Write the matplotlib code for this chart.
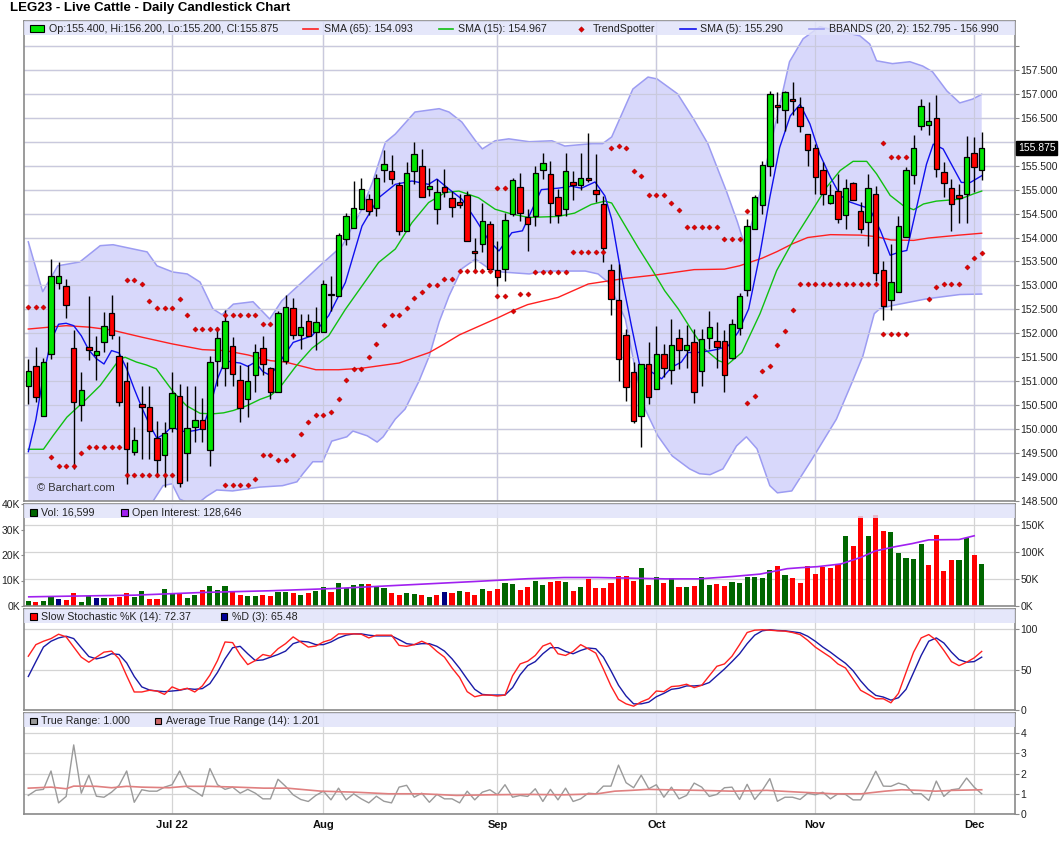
import matplotlib
matplotlib.use("Agg")
import matplotlib.pyplot as plt
from matplotlib.patches import Rectangle, Polygon
from matplotlib.lines import Line2D
from matplotlib.transforms import blended_transform_factory
from matplotlib.ticker import FuncFormatter

plt.rcParams['font.family'] = ['Liberation Sans', 'DejaVu Sans']

# ---------------- data ----------------
opens = [150.90, 151.31, 150.27, 151.56, 153.06, 152.99, 151.69, 150.51, 151.71, 151.55,
         151.81, 152.42, 151.52, 151.01, 149.52, 150.53, 150.46, 149.81, 149.45, 150.02,
         150.69, 149.50, 150.04, 150.19, 149.57, 151.42, 151.27, 151.73, 151.03, 150.63,
         151.13, 151.69, 151.27, 150.77, 151.42, 152.52, 151.97, 152.26, 152.02, 152.02,
         152.83, 152.77, 153.97, 154.19, 154.60, 154.81, 154.61, 155.40, 155.38, 155.10,
         154.13, 155.38, 155.49, 155.01, 154.59, 155.06, 154.83, 154.74, 154.89, 153.72,
         153.86, 154.28, 153.32, 153.35, 154.49, 155.06, 154.42, 154.44, 155.40, 155.33,
         154.85, 154.60, 155.15, 155.10, 155.24, 155.00, 154.69, 153.33, 152.70, 151.97,
         151.20, 150.27, 151.35, 150.84, 151.56, 151.24, 151.91, 151.65, 151.81, 151.21,
         151.90, 151.85, 151.85, 151.48, 152.11, 152.90, 154.17, 154.67, 155.50, 156.76,
         156.67, 156.90, 156.72, 156.16, 155.86, 155.41, 154.72, 154.98, 154.46, 155.13,
         154.56, 154.32, 154.90, 153.33, 152.69, 152.86, 154.01, 155.31, 156.32, 156.35,
         156.49, 155.36, 155.03, 154.88, 154.91, 155.76, 155.40]
highs = [151.47, 151.71, 151.48, 153.56, 153.48, 153.13, 152.06, 151.19, 152.77, 151.95,
         152.45, 152.80, 151.95, 151.40, 150.04, 150.91, 150.91, 150.16, 150.15, 151.19,
         150.94, 150.91, 150.91, 150.65, 151.53, 152.13, 152.49, 151.92, 151.33, 151.33,
         151.78, 151.95, 151.30, 152.47, 152.80, 152.73, 152.40, 152.40, 152.54, 153.12,
         153.19, 154.09, 154.51, 155.19, 155.24, 154.90, 155.33, 155.82, 155.72, 155.15,
         155.58, 155.99, 155.85, 155.46, 155.23, 155.44, 154.97, 154.90, 154.97, 154.00,
         154.73, 154.35, 153.93, 154.51, 155.25, 155.34, 154.59, 155.49, 155.77, 155.60,
         155.01, 155.77, 155.39, 155.77, 156.19, 155.74, 154.87, 153.44, 153.44, 152.10,
         151.41, 151.35, 151.81, 152.15, 151.78, 152.30, 152.10, 152.17, 152.09, 152.10,
         152.46, 152.23, 152.06, 152.30, 152.84, 154.38, 154.88, 155.59, 157.06, 157.03,
         157.06, 157.24, 156.94, 156.16, 155.95, 155.57, 155.12, 155.33, 155.22, 155.15,
         154.74, 155.33, 155.08, 153.52, 153.87, 154.44, 155.47, 156.14, 156.89, 156.82,
         156.97, 155.57, 155.22, 155.12, 156.11, 156.09, 156.20]
lows = [150.53, 150.56, 150.27, 151.47, 152.92, 152.33, 149.17, 150.16, 151.45, 151.03,
        151.60, 151.88, 150.49, 148.86, 149.45, 149.38, 149.38, 149.00, 148.80, 149.94,
        148.80, 148.92, 149.73, 149.73, 149.24, 150.90, 150.91, 150.91, 150.15, 150.26,
        150.77, 151.12, 150.63, 150.77, 151.36, 151.88, 151.67, 151.95, 151.66, 152.02,
        152.47, 152.77, 153.84, 154.19, 154.60, 154.47, 154.45, 155.15, 155.11, 154.06,
        154.13, 155.11, 154.85, 154.87, 154.28, 154.85, 154.42, 154.61, 153.92, 153.31,
        153.69, 153.27, 152.98, 153.10, 154.45, 154.35, 153.72, 154.24, 155.22, 154.31,
        154.31, 154.45, 154.78, 155.00, 155.15, 154.74, 153.49, 152.38, 151.01, 150.58,
        150.13, 149.63, 150.53, 150.84, 151.08, 150.94, 151.26, 151.27, 150.54, 150.91,
        151.67, 151.28, 150.77, 151.47, 151.97, 152.78, 154.17, 154.49, 155.29, 156.40,
        156.23, 156.56, 156.21, 155.50, 154.91, 154.67, 154.70, 154.31, 154.18, 154.79,
        154.09, 153.83, 153.10, 152.28, 152.48, 152.86, 154.01, 155.12, 156.25, 156.15,
        155.27, 154.84, 154.13, 154.30, 154.31, 154.94, 155.20]
closes = [151.22, 150.67, 151.41, 153.20, 153.20, 152.60, 150.56, 150.81, 151.65, 151.64,
          152.15, 151.97, 150.56, 149.59, 149.77, 150.46, 149.96, 149.35, 149.92, 150.75,
          148.88, 150.02, 150.19, 150.00, 151.41, 151.90, 152.26, 151.15, 150.44, 151.01,
          151.60, 151.36, 150.77, 152.42, 152.56, 151.97, 152.14, 151.95, 152.23, 153.04,
          152.80, 154.06, 154.44, 154.61, 155.02, 154.56, 155.25, 155.53, 155.22, 154.13,
          155.35, 155.75, 154.85, 155.08, 154.95, 154.96, 154.63, 154.68, 153.92, 153.67,
          154.35, 153.34, 153.18, 154.36, 155.20, 154.51, 154.29, 155.35, 155.56, 154.73,
          154.48, 155.38, 155.10, 155.24, 155.21, 154.90, 153.79, 152.71, 151.47, 150.88,
          150.18, 151.35, 150.67, 151.56, 151.27, 151.76, 151.65, 151.76, 150.77, 151.89,
          152.14, 151.71, 151.13, 152.20, 152.78, 154.24, 154.85, 155.52, 156.99, 156.73,
          157.03, 156.85, 156.33, 155.83, 155.26, 154.90, 154.88, 154.38, 155.03, 154.79,
          154.17, 155.03, 153.26, 152.57, 153.07, 154.25, 155.40, 155.86, 156.74, 156.44,
          155.44, 155.13, 154.70, 154.83, 155.69, 155.47, 155.875]

# moving averages / bands as (day, value) pairs
sma65 = [(1, 152.09), (6, 152.16), (9, 152.13), (12, 152.07), (16, 151.92), (20, 151.78),
         (24, 151.66), (27, 151.64), (30, 151.55), (33, 151.43), (35, 151.40), (39, 151.24),
         (42, 151.24), (45, 151.27), (50, 151.38), (54, 151.60), (56, 151.78), (58, 151.97),
         (63, 152.32), (65, 152.47), (67, 152.60), (71, 152.75), (75, 153.03), (80, 153.15),
         (84, 153.22), (89, 153.33), (93, 153.34), (95, 153.41), (98, 153.57), (100, 153.71),
         (102, 153.87), (104, 154.00), (107, 154.06), (111, 154.05), (113, 154.02), (115, 153.95),
         (118, 153.94), (120, 153.99), (122, 154.02), (124, 154.05), (127, 154.09)]
sma15 = [(1, 149.58), (3, 149.58), (4.3, 149.87), (6.1, 150.25), (8.7, 150.63), (10.5, 150.91),
         (11.8, 151.19), (13.1, 151.47), (13.8, 151.50), (15.3, 151.40), (16.6, 151.34), (17.9, 151.26),
         (20.2, 150.77), (21.9, 150.49), (23.7, 150.33), (25.4, 150.32), (26.8, 150.34), (28.1, 150.39),
         (29.9, 150.49), (31.6, 150.62), (33, 150.70), (34.1, 150.84), (36.3, 151.30), (38.5, 151.69),
         (40.7, 151.95), (42.9, 152.50), (45.1, 152.99), (47.3, 153.48), (49.5, 153.76), (51.7, 154.31),
         (53.9, 154.73), (56.1, 154.94), (57.9, 154.97), (60.5, 154.83), (62.7, 154.59), (64.9, 154.49),
         (67.1, 154.42), (71, 154.44), (73.2, 154.51), (75.4, 154.69), (77.2, 154.76), (78.1, 154.72),
         (79.9, 154.24), (81.6, 153.79), (83.4, 153.34), (85.1, 152.89), (86.9, 152.51), (88.7, 152.06),
         (90.4, 151.67), (92.2, 151.43), (93.5, 151.36), (95.3, 151.60), (97.7, 152.41), (99.9, 153.31),
         (102.1, 153.94), (104.3, 154.49), (106.5, 155.05), (108.3, 155.40), (110, 155.59), (111.8, 155.59),
         (113.1, 155.33), (114.9, 154.88), (116.6, 154.67), (118, 154.58), (119.3, 154.70), (121, 154.76),
         (124.1, 154.80), (125.9, 154.91), (127, 154.97)]
sma5 = [(1, 149.53), (2, 150.20), (3, 151.12), (4, 151.85), (5, 152.19), (6, 152.21), (7, 152.16),
        (8, 151.95), (9, 151.65), (10, 151.47), (11, 151.36), (12, 151.64), (13, 151.59), (14, 151.26),
        (15, 150.84), (16, 150.45), (17, 150.10), (18, 149.81), (19, 149.90), (20, 150.06), (21, 149.96),
        (22, 149.95), (23, 149.97), (24, 150.01), (25, 150.45), (26, 151.05), (27, 151.43), (28, 151.40),
        (29, 151.38), (30, 151.31), (31, 151.40), (32, 151.20), (33, 151.12), (36, 151.81), (38.5, 151.95),
        (40.7, 152.37), (42.9, 153.06), (45.1, 154.24), (47.3, 154.83), (49.5, 155.11), (51.7, 155.18),
        (53.9, 155.11), (55, 155.22), (56.6, 155.01), (58.3, 154.80), (60.1, 154.38), (61.9, 153.93),
        (63.2, 153.72), (64.9, 154.10), (66.3, 154.14), (67.6, 154.59), (68.8, 155.00), (71, 155.03),
        (72.8, 155.07), (74.1, 155.03), (75.9, 155.16), (77.2, 154.87), (78.1, 154.38), (79.4, 153.20),
        (80.7, 152.16), (81.8, 151.33), (83.4, 151.19), (84.7, 151.05), (86, 151.29), (87.3, 151.40),
        (88.2, 151.60), (89.5, 151.60), (90.9, 151.63), (92.2, 151.67), (93.5, 151.74), (94.8, 152.02),
        (96.2, 152.51), (97.7, 153.66), (99, 154.84), (100.3, 155.88), (101.7, 156.54), (103, 156.78),
        (104.3, 156.37), (105.6, 155.74), (107, 155.26), (108.3, 154.88), (109.6, 154.74), (110.9, 154.67),
        (112.2, 154.60), (113.6, 154.15), (114.9, 153.63), (116.2, 153.70), (117.1, 153.73), (118.4, 154.63),
        (119.7, 155.53), (120.6, 155.95), (121.9, 155.85), (123.2, 155.47), (124.3, 155.15), (125.5, 155.15),
        (127, 155.29)]
bb_upper = [(1, 153.91), (2.9, 152.87), (4.9, 153.41), (7.8, 153.49), (10.5, 153.83), (12.2, 153.85),
            (16.7, 153.70), (18, 153.41), (20.1, 153.28), (22, 153.24), (23.7, 153.07), (25.4, 152.51),
            (26.6, 152.39), (28.1, 152.61), (30.7, 152.66), (32.9, 152.30), (34.5, 152.68), (37.2, 153.07),
            (39.8, 153.45), (42.5, 153.83), (45.1, 154.60), (46.5, 155.16), (48.2, 155.99), (49.5, 156.16),
            (52.1, 156.62), (55.3, 156.69), (56.6, 156.62), (58.3, 156.41), (60.1, 156.02), (61, 155.85),
            (62.7, 156.02), (64.5, 156.06), (67.2, 156.00), (70.2, 156.02), (71.9, 155.91), (75.5, 155.96),
            (76.9, 155.96), (78.1, 156.10), (80.9, 157.10), (82.9, 157.35), (84.1, 157.31), (86.8, 157.00),
            (88.9, 156.48), (90.8, 155.96), (93.3, 154.95), (94.7, 154.33), (95.7, 153.83), (97.3, 154.66),
            (98.6, 155.58), (99.9, 156.48), (101.6, 157.67), (103.4, 158.15), (105.6, 158.40), (108.6, 158.29),
            (110.9, 158.21), (112.2, 158.04), (113.1, 157.69), (115.2, 157.63), (117.5, 157.67), (119.2, 157.58),
            (120.5, 157.46), (122.4, 157.06), (124.1, 156.81), (125.8, 156.89), (127, 156.99)]
bb_lower = [(1, 148.30), (5, 147.95), (10, 147.85), (14, 148.05), (17.5, 148.50), (18.8, 148.82),
            (20, 148.86), (21, 148.54), (23, 148.40), (24.6, 148.60), (25.9, 148.73), (28, 148.71),
            (31.6, 148.79), (34.6, 148.82), (36.5, 148.90), (37.3, 149.07), (38.6, 149.32), (39.9, 149.32),
            (41.1, 149.75), (43.1, 149.84), (43.9, 149.96), (45.8, 149.86), (47.1, 149.73), (47.9, 149.84),
            (49.5, 150.21), (50.8, 150.42), (52.6, 150.99), (54, 151.53), (55.3, 152.24), (56.6, 152.78),
            (58.3, 153.35), (60.1, 153.55), (61.9, 153.35), (63.6, 153.28), (67.2, 153.24), (69.3, 153.30),
            (74.6, 153.30), (76.3, 153.24), (77.6, 153.07), (79.9, 152.30), (81.2, 151.26), (82.5, 150.42),
            (84.2, 149.86), (86.1, 149.44), (88.4, 149.17), (89.7, 149.07), (91.1, 149.05), (92.8, 149.17),
            (94.6, 149.65), (95.9, 149.84), (97.3, 149.59), (99, 148.82), (100, 148.67), (101.9, 148.71),
            (104.6, 149.38), (107.8, 150.21), (109.9, 150.99), (111.3, 151.53), (112.8, 152.41), (113.5, 152.51),
            (115.2, 152.58), (119.7, 152.72), (124.1, 152.81), (127, 152.82)]

# TrendSpotter dots
trend_x = [1, 2, 3, 4, 5, 6, 7, 8, 9, 10, 11, 12, 13,
           14, 15, 16, 17, 18, 19, 20, 14, 15, 16, 17, 18, 19, 20,
           21, 22, 23, 24, 25, 26, 27, 28, 29, 30, 31, 27, 28, 29, 30, 31,
           32, 33, 32, 33, 34, 35, 36, 37, 38, 39, 40, 41, 42, 43, 44, 45, 46, 47, 48,
           49, 50, 51, 52, 53, 54, 55, 56, 57, 58, 59, 60, 61, 62, 63, 64, 63, 64,
           65, 66, 67, 68, 69, 70, 71, 72, 73, 74, 75, 76, 77,
           78, 79, 80, 81, 82, 83, 84, 85, 86, 87, 88, 89, 90, 91, 92, 93, 94, 95,
           96, 96, 97, 98, 99, 100, 101, 102, 103, 104, 105, 106, 107, 108, 109, 110, 111, 112, 113,
           114, 115, 116, 117, 114, 115, 116, 117, 120, 121, 122, 123, 124, 125, 126, 127]
trend_y = [152.56, 152.56, 152.56, 149.42, 149.23, 149.23, 149.23, 149.50, 149.63, 149.63, 149.63, 149.63, 149.63,
           153.11, 153.11, 153.03, 152.67, 152.52, 152.52, 152.52,
           149.05, 149.05, 149.05, 149.05, 149.05, 149.05, 149.05,
           152.71, 152.38, 152.10, 152.10, 152.10, 152.10, 152.38, 152.38, 152.38, 152.38, 152.38,
           148.84, 148.84, 148.84, 148.84, 148.96,
           152.20, 152.20, 149.46, 149.46, 149.36, 149.36, 149.47, 149.90, 150.15, 150.30, 150.30, 150.35,
           150.63, 151.02, 151.26, 151.26, 151.50, 151.77, 152.17,
           152.38, 152.38, 152.52, 152.73, 152.86, 153.01, 153.01, 153.13, 153.13, 153.31, 153.31, 153.31,
           153.31, 153.31, 152.77, 152.77, 155.04, 155.04,
           152.47, 152.83, 152.83, 153.29, 153.29, 153.29, 153.29, 153.29, 153.70, 153.70, 153.70, 153.70, 153.70,
           155.87, 155.91, 155.87, 155.38, 155.28, 154.89, 154.89, 154.89, 154.72, 154.58, 154.22, 154.22,
           154.22, 154.22, 154.22, 153.97, 153.97, 153.97,
           154.55, 150.55, 150.69, 151.21, 151.32, 151.75, 152.05, 152.49, 153.03, 153.03, 153.03, 153.03,
           153.03, 153.03, 153.03, 153.03, 153.03, 153.03, 153.03,
           151.99, 151.99, 151.99, 151.99, 155.97, 155.69, 155.69, 155.69,
           152.72, 152.96, 153.03, 153.03, 153.03, 153.38, 153.57, 153.68]

# volume (thousands) and its colour code: g = up, r = down, n = unchanged
volume_k = [2.0, 1.7, 2.0, 3.6, 2.8, 2.5, 5.2, 1.7, 3.9, 3.2, 3.2, 3.2, 3.6, 5.2, 3.6, 6.0, 2.8, 2.8, 6.8, 5.2,
            4.7, 3.2, 4.4, 6.4, 8.0, 6.4, 8.0, 5.6, 4.4, 4.0, 4.0, 4.4, 4.0, 5.6, 5.6, 5.2, 4.4, 5.2, 6.0, 7.6,
            5.6, 9.2, 7.2, 8.4, 8.8, 8.8, 7.6, 7.2, 5.2, 4.4, 5.2, 4.8, 4.4, 3.6, 4.4, 5.6, 5.2, 6.0, 5.6, 4.4,
            6.8, 6.0, 6.8, 9.2, 8.8, 6.4, 7.6, 10.0, 8.4, 9.6, 10.0, 9.6, 6.0, 7.6, 10.4, 7.2, 7.2, 9.2, 11.6, 11.6,
            10.0, 14.8, 8.4, 11.2, 9.2, 10.8, 7.6, 7.6, 8.0, 11.2, 8.4, 8.8, 8.0, 9.6, 9.2, 11.2, 11.2, 10.8, 14.0, 15.6,
            12.0, 10.8, 9.2, 15.6, 12.4, 15.3, 14.8, 16.4, 27.6, 23.6, 35.2, 27.6, 35.6, 29.6, 29.2, 20.8, 18.8, 18.4,
            24.4, 16.0, 28.0, 13.6, 18.0, 18.0, 26.8, 20.0, 16.6]
volume_dir = ("grggnrrggngrrrggrrggrggrgggrrggrrggrgrggrggggrggrrggrgrnrgrrgrrggrr"
              "ggrrgrgrrrrrrrgrgrgrgrggrrggggggrgrrrrrrrgrrgrrgggggrrrrggrg")
oi_k = [(1.06, 16.9), (6.2, 18.1), (15.1, 20.0), (24.1, 25.0), (33, 28.1), (41.9, 32.5), (50.9, 38.8),
        (59.8, 45.0), (67, 50.3), (71.8, 52.5), (76.2, 52.5), (80.7, 51.3), (85.2, 50.0), (89.6, 50.0),
        (94.1, 54.4), (97.7, 58.8), (101.3, 68.8), (103, 70.6), (105.3, 72.5), (108.4, 77.5), (111.1, 90.0),
        (112.9, 101.3), (115.6, 109.4), (117.8, 115.0), (120, 121.9), (124, 122.5), (126, 129.4)]

stoch_k = [66.5, 80.8, 85, 88.3, 93.7, 90.4, 77.8, 65.3, 59, 65.3, 71.5, 72.8, 63.2, 42.3, 22.2, 22.2,
           24.3, 23.4, 19.2, 28.5, 24.7, 26.8, 22.2, 29.7, 43.1, 61.1, 84.1, 83.3, 68.2, 56.1, 61.1, 68.6,
           66.5, 75.7, 82, 90.4, 84.1, 77.8, 79.1, 84.1, 87, 94.1, 94.1, 94.1, 93.7, 89.1, 92.5, 92.5,
           92.5, 79.9, 78.7, 80.8, 85, 80.8, 72.4, 65.3, 51.9, 40.2, 22.6, 16.3, 18.4, 18.4, 17.2, 18.4,
           42.3, 56.9, 60.3, 67.4, 79.1, 82.8, 69.5, 67.4, 72.4, 80.8, 75.7, 70.3, 50.6, 29.7, 13, 7.5,
           4.6, 10, 13.8, 23.4, 22.6, 28.9, 29.7, 31.8, 27.6, 30.5, 42.3, 54, 56.9, 66.5, 80.8, 95.8,
           98.7, 99.2, 98.7, 97.9, 97.5, 95.8, 93.3, 86.2, 77.8, 71.5, 65.3, 56.9, 51.9, 38.1, 24.3, 19.2,
           13.8, 13.8, 8.8, 20.5, 46.4, 71.5, 89.1, 93.3, 86.2, 73.6, 59.8, 54.8, 59, 64.4, 72.4]
stoch_d = [41.4, 59.8, 77.8, 85, 89.1, 91.2, 88.3, 77, 66.1, 63.2, 65.3, 69.5, 68.6, 58.2, 41.4, 28.5,
           24.7, 23.4, 22.6, 23.4, 24.3, 26.4, 25.5, 26.4, 32.6, 46.4, 63.2, 77, 78.7, 69.5, 61.1, 61.9,
           65.3, 68.6, 72.8, 82, 85, 84.1, 80.8, 80.8, 84.1, 89.1, 92.5, 94.1, 94.1, 92.5, 91.6, 91.6,
           91.6, 87, 82, 80.8, 82, 82, 78.7, 72.8, 63.2, 51.5, 38.1, 25.5, 19.2, 18.4, 18.4, 18.4,
           27.6, 43.5, 54.8, 59.8, 69.5, 77, 77, 72.4, 69.5, 73.6, 76.6, 75.7, 65.3, 48.5, 30.5, 17.2,
           7.5, 7.5, 9.6, 16.3, 20.5, 25.5, 26.8, 29.7, 29.7, 30.5, 33.9, 42.3, 50.6, 59.8, 69.5, 82,
           92.5, 97.9, 99.2, 98.3, 97.9, 96.7, 95.4, 91.2, 85, 77.8, 71.5, 64.4, 57.7, 48.5, 36, 25.5,
           18, 15.9, 12.1, 15.1, 25.5, 46.4, 67.4, 85, 89.1, 82.8, 71.5, 62.3, 59, 59.8, 65.3]

true_range = [0.92, 1.17, 1.22, 2.13, 0.55, 0.87, 3.42, 1.03, 1.92, 0.88, 0.83, 1.08, 1.42, 2.13, 0.58, 1.2,
              1.13, 1.13, 1.33, 1.45, 2.13, 1.33, 1.13, 0.88, 2.25, 1.45, 1.22, 1.33, 1.03, 1.22, 1.03, 0.75,
              0.75, 1.72, 1.37, 0.95, 0.72, 0.62, 0.92, 1.13, 0.7, 1.28, 0.7, 1.0, 0.75, 0.55, 0.88, 0.63,
              0.55, 1.33, 1.42, 0.83, 1.03, 0.58, 0.97, 0.75, 0.75, 0.55, 1.13, 0.7, 1.08, 1.2, 0.95, 1.45,
              0.83, 0.92, 0.87, 1.25, 0.62, 1.22, 0.7, 1.28, 0.62, 0.75, 1.03, 1.0, 1.38, 1.38, 2.42, 1.55,
              1.3, 1.92, 1.25, 1.45, 0.83, 1.33, 0.75, 0.92, 1.53, 1.33, 0.87, 0.97, 1.3, 1.33, 0.72, 1.47,
              0.72, 1.17, 1.75, 0.63, 0.83, 0.83, 0.72, 1.03, 0.95, 1.08, 0.75, 1.0, 0.97, 0.7, 0.7, 1.37,
              2.12, 1.38, 1.37, 1.53, 1.42, 1.0, 1.0, 0.67, 1.63, 0.87, 1.2, 1.25, 1.78, 1.33, 1.0]
atr = [(1, 1.28), (4, 1.33), (6, 1.25), (7, 1.38), (10, 1.37), (12, 1.30), (14, 1.37), (16, 1.33),
       (19.6, 1.30), (21.8, 1.37), (25, 1.37), (28.5, 1.33), (32.1, 1.28), (35.2, 1.28), (39.7, 1.13),
       (44.2, 1.08), (48.6, 1.00), (53.1, 1.00), (57.6, 0.92), (62, 0.95), (67, 0.97), (71.8, 0.95),
       (76.2, 1.00), (78.5, 1.13), (80.7, 1.17), (82.9, 1.22), (85.2, 1.20), (89.6, 1.17), (94.1, 1.13),
       (98.6, 1.17), (103, 1.08), (107.5, 1.00), (111.1, 1.00), (114.2, 1.13), (116.4, 1.20), (118.7, 1.17),
       (120.9, 1.13), (123.2, 1.17), (127, 1.20)]

month_pos = [20, 40, 63, 84, 105, 126]
month_labels = ['Jul 22', 'Aug', 'Sep', 'Oct', 'Nov', 'Dec']

days = list(range(1, len(closes) + 1))

# ---------------- figure ----------------
W, H = 1060, 851
fig = plt.figure(figsize=(W / 100, H / 100), dpi=100)
fig.patch.set_facecolor('white')


def box(top, bottom, left=24, right=1015):
    return [left / W, 1 - bottom / H, (right - left) / W, (bottom - top) / H]


ax = fig.add_axes(box(21, 501))
axv = fig.add_axes(box(504, 606))
axs = fig.add_axes(box(609, 710))
axt = fig.add_axes(box(713, 814))

GRID = '#d4d4d4'
BAND = '#e0e2fa'
TXT = '#222222'
LBL = 7.5


def style(a):
    a.set_xlim(0.43, 131.4)
    for s in a.spines.values():
        s.set_color('#8a8a8a')
        s.set_linewidth(1.2)
    a.set_xticks(month_pos)
    a.tick_params(axis='x', length=0, labelbottom=False)
    a.yaxis.tick_right()
    a.tick_params(axis='y', direction='out', length=3, color='#8a8a8a',
                  labelsize=LBL, labelcolor=TXT, pad=1)
    a.grid(True, color=GRID, lw=0.9, zorder=2)
    a.set_axisbelow(True)


def legend_band(a, px_height, px_total):
    frac = px_height / px_total
    a.add_patch(Rectangle((0, 1 - frac), 1, frac, transform=a.transAxes,
                          facecolor=BAND, edgecolor='none', alpha=0.82, zorder=20))


def fx(x):
    return x / W


def fy(y):
    return 1 - y / H


# ---------------- main price panel ----------------
style(ax)
ax.set_ylim(148.5, 158.52)
ax.set_yticks([148.5 + 0.5 * i for i in range(20)])
last_close = closes[-1]
ax.yaxis.set_major_formatter(FuncFormatter(
    lambda v, p: '' if (v > 157.9 or abs(v - last_close) < 0.2) else '%.3f' % v))

ux, uy = zip(*bb_upper)
lx, ly = zip(*bb_lower)
ax.add_patch(Polygon(list(zip(list(ux) + list(lx)[::-1], list(uy) + list(ly)[::-1])),
                     closed=True, facecolor='#d8d8fb', edgecolor='none', zorder=1))
ax.plot(ux, uy, color='#9c9cf2', lw=1.1, zorder=1.5)
ax.plot(lx, ly, color='#9c9cf2', lw=1.1, zorder=1.5)
# grid lines above the band shading
for v in ax.get_yticks():
    ax.axhline(v, color='#c9c9dd', lw=0.9, zorder=1.6)
for m in month_pos:
    ax.axvline(m, color='#c9c9dd', lw=0.9, zorder=1.6)

for series, col in [(sma65, '#ff2020'), (sma15, '#10c010'), (sma5, '#1010ee')]:
    xs, ys = zip(*series)
    ax.plot(xs, ys, color=col, lw=1.0, zorder=3)

for d, o, h, l, c in zip(days, opens, highs, lows, closes):
    ax.plot([d, d], [l, h], color='black', lw=1.0, zorder=4, solid_capstyle='butt')
    up = c >= o
    bottom = min(o, c)
    height = max(abs(c - o), 0.03)
    ax.add_patch(Rectangle((d - 0.36, bottom), 0.72, height,
                           facecolor='#00e600' if up else '#ff0000',
                           edgecolor='black', lw=0.9, zorder=5))

ax.scatter(trend_x, trend_y, marker='D', s=7, color='#e00000',
           edgecolors='#a00000', linewidths=0.3, zorder=6)

legend_band(ax, 14, 480)
ax.text(fx(37), fy(488), '\u00a9 Barchart.com', transform=fig.transFigure,
        fontsize=8, color='#333333', va='center', ha='left', zorder=21)

ax.text(1.003, last_close, '%.3f' % last_close,
        transform=blended_transform_factory(ax.transAxes, ax.transData),
        color='white', fontsize=LBL, va='center', ha='left', zorder=30, clip_on=False,
        bbox=dict(boxstyle='square,pad=0.18', facecolor='black', edgecolor='black'))

# title and legends
fig.text(fx(10), fy(8), 'LEG23 - Live Cattle - Daily Candlestick Chart',
         fontsize=9.5, fontweight='bold', color='black', va='center', ha='left')


def swatch_rect(x0, x1, yc, h, fc, ec='black'):
    fig.patches.append(Rectangle((fx(x0), fy(yc + h / 2)), (x1 - x0) / W, h / H,
                                 transform=fig.transFigure, facecolor=fc,
                                 edgecolor=ec, lw=0.8, zorder=40))


def swatch_line(x0, x1, yc, col):
    fig.lines.append(Line2D([fx(x0), fx(x1)], [fy(yc), fy(yc)], transform=fig.transFigure,
                            color=col, lw=1.2, zorder=40))


def legend_text(x, yc, s):
    fig.text(fx(x), fy(yc), s, fontsize=7.7, color=TXT, va='center', ha='left', zorder=41)


LY = 28.5
swatch_rect(30, 44, LY, 6.5, '#00e600')
legend_text(49, LY, 'Op:%.3f, Hi:%.3f, Lo:%.3f, Cl:%.3f' % (opens[-1], highs[-1], lows[-1], closes[-1]))
swatch_line(303, 318, LY, '#ff2020')
legend_text(323.5, LY, 'SMA (65): 154.093')
swatch_line(438.5, 453, LY, '#10c010')
legend_text(458, LY, 'SMA (15): 154.967')
fig.lines.append(Line2D([fx(581)], [fy(LY)], transform=fig.transFigure, marker='D',
                        markersize=2.8, color='#e00000', markeredgecolor='#a00000',
                        markeredgewidth=0.3, linestyle='none', zorder=40))
legend_text(592.5, LY, 'TrendSpotter')
swatch_line(680, 696, LY, '#1010ee')
legend_text(700, LY, 'SMA (5): 155.290')
swatch_line(809, 824, LY, '#9c9cf2')
legend_text(829, LY, 'BBANDS (20, 2): 152.795 - 156.990')

# ---------------- volume + open interest ----------------
style(axv)
axv.yaxis.tick_left()
axv.tick_params(axis='y', direction='out', length=2.5, pad=0.5)
axv.set_ylim(0, 40000)
axv.set_yticks([0, 10000, 20000, 30000, 40000])
axv.yaxis.set_major_formatter(FuncFormatter(lambda v, p: '%dK' % (v / 1000)))
axv.grid(False)
for m in month_pos:
    axv.axvline(m, color=GRID, lw=0.9, zorder=0.5)
vol_colors = {'g': '#006600', 'r': '#ff0000', 'n': '#000080'}
axv.bar(days, [v * 1000 for v in volume_k], width=0.68,
        color=[vol_colors[c] for c in volume_dir], zorder=2)

axo = axv.twinx()
axo.set_xlim(0.43, 131.4)
axo.set_ylim(0, 188000)
axo.set_yticks([0, 50000, 100000, 150000])
axo.yaxis.set_major_formatter(FuncFormatter(lambda v, p: '%dK' % (v / 1000)))
axo.tick_params(axis='y', direction='out', length=3, color='#8a8a8a',
                labelsize=LBL, labelcolor=TXT, pad=1)
for s in axo.spines.values():
    s.set_visible(False)
grid_tr = blended_transform_factory(axv.transAxes, axo.transData)
for t in [50000, 100000, 150000]:
    axv.add_line(Line2D([0, 1], [t, t], transform=grid_tr, color=GRID, lw=0.9, zorder=0.5))
ox, oy = zip(*oi_k)
axo.plot(ox, [v * 1000 for v in oy], color='#a020f0', lw=1.2, zorder=3)
legend_band(axo, 14, 102)

VY = 512.5
swatch_rect(30, 36.5, VY, 6.5, '#006600')
legend_text(40.6, VY, 'Vol: 16,599')
swatch_rect(121, 127.5, VY, 6.5, '#a020f0')
legend_text(131.8, VY, 'Open Interest: 128,646')

# ---------------- slow stochastic ----------------
style(axs)
axs.set_ylim(-0.1, 124.9)
axs.set_yticks([0, 50, 100])
axs.plot(days, stoch_d, color='#1a1aa6', lw=1.0, zorder=3)
axs.plot(days, stoch_k, color='#ff2020', lw=1.0, zorder=3)
legend_band(axs, 14, 101)
SY = 616.5
swatch_rect(30, 36.5, SY, 6.5, '#ff0000')
legend_text(40.6, SY, 'Slow Stochastic %K (14): 72.37')
swatch_rect(220.5, 227, SY, 6.5, '#000099')
legend_text(231.6, SY, '%D (3): 65.48')

# ---------------- true range ----------------
style(axt)
axt.set_ylim(0, 5)
axt.set_yticks([0, 1, 2, 3, 4])
axt.plot(days, true_range, color='#9a9a9a', lw=1.0, zorder=3)
axx, axy = zip(*atr)
axt.plot(axx, axy, color='#e08080', lw=1.2, zorder=3)
legend_band(axt, 14, 101)
TY = 721
swatch_rect(30, 36.5, TY, 6.5, '#999999')
legend_text(40.6, TY, 'True Range: 1.000')
swatch_rect(154.5, 161, TY, 6.5, '#cc6666')
legend_text(166.3, TY, 'Average True Range (14): 1.201')

axt.set_xticklabels(month_labels)
axt.tick_params(axis='x', labelbottom=True, length=0, pad=4, labelsize=8, labelcolor='#111111')
for lbl in axt.get_xticklabels():
    lbl.set_fontweight('bold')

fig.savefig('out.png', dpi=100)
